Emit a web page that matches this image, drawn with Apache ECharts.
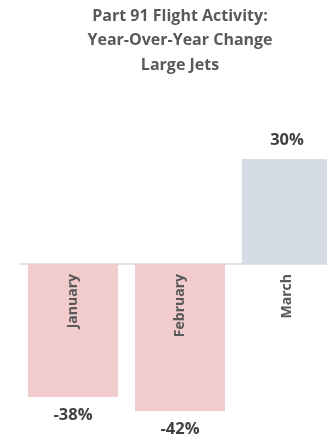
<!DOCTYPE html>
<html>
<head>
<meta charset="utf-8">
<script src="https://cdn.jsdelivr.net/npm/echarts@6/dist/echarts.min.js"></script>
<style>
  html, body { margin: 0; padding: 0; background: #fff; }
  #chart { width: 327px; height: 436px; }
</style>
</head>
<body>
<div id="chart"></div>
<script>
var months = ['January', 'February', 'March'];
var changes = [-38, -42, 30];
var barColors = ['#f2cbcc', '#f2cbcc', '#d6dce5'];

var yMin = -42;
var yMax = 30;
var gridTop = 159;
var gridHeight = 252;
// distance from grid top down to the zero line
var zeroOffset = gridHeight * yMax / (yMax - yMin);

var myChart = echarts.init(document.getElementById('chart'));

myChart.setOption({
  animation: false,
  title: {
    text: 'Part 91 Flight Activity:\nYear-Over-Year Change\nLarge Jets',
    left: 175,
    top: -1,
    textAlign: 'center',
    textStyle: {
      fontFamily: 'Open Sans',
      fontWeight: 'bold',
      fontSize: 16,
      lineHeight: 24.5,
      color: '#595959'
    }
  },
  grid: {
    left: 19.5,
    right: -13.5,
    top: gridTop,
    height: gridHeight,
    outerBoundsMode: 'none'
  },
  xAxis: [{
    type: 'category',
    data: months,
    axisLine: { onZero: true, lineStyle: { color: '#d9d9d9', width: 1.5 } },
    axisTick: { show: false },
    axisLabel: { show: false }
  }, {
    // label-only axis pushed down to the zero line, drawn over the bars
    type: 'category',
    data: months,
    position: 'top',
    offset: -zeroOffset,
    z: 10,
    axisLine: { show: false },
    axisTick: { show: false },
    axisLabel: {
      inside: true,
      rotate: -90,
      margin: 10,
      fontFamily: 'Open Sans',
      fontWeight: 'bold',
      fontSize: 14,
      color: '#595959'
    }
  }],
  yAxis: {
    type: 'value',
    min: yMin,
    max: yMax,
    show: false,
    splitLine: { show: false }
  },
  series: [{
    type: 'bar',
    barWidth: 90,
    data: changes.map(function (v, i) {
      return { value: v, itemStyle: { color: barColors[i] } };
    }),
    label: {
      show: true,
      position: 'outside',
      distance: 10,
      formatter: function (p) { return p.value + '%'; },
      fontFamily: 'Open Sans',
      fontWeight: 'bold',
      fontSize: 16.5,
      color: '#404040'
    }
  }]
});
</script>
</body>
</html>
